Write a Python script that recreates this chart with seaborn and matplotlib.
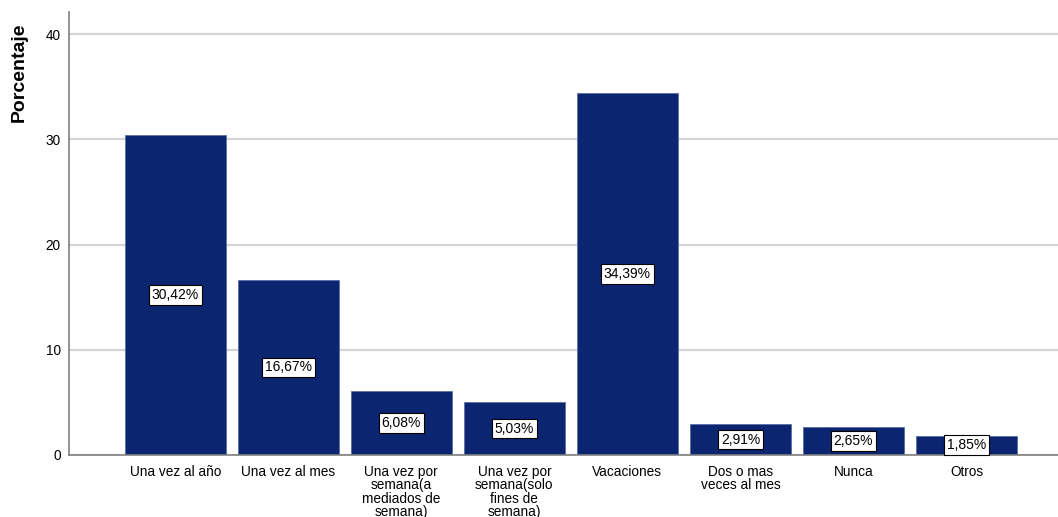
import matplotlib
matplotlib.use('Agg')
import matplotlib.pyplot as plt
import seaborn as sns
import pandas as pd

categorias = ['Una vez al año', 'Una vez al mes', 'Una vez por\nsemana(a\nmediados de\nsemana)',
              'Una vez por\nsemana(solo\nfines de\nsemana)', 'Vacaciones', 'Dos o mas\nveces al mes',
              'Nunca', 'Otros']
porcentajes = [30.42, 16.67, 6.08, 5.03, 34.39, 2.91, 2.65, 1.85]
etiquetas = ['30,42%', '16,67%', '6,08%', '5,03%', '34,39%', '2,91%', '2,65%', '1,85%']

sns.set_style('white')
plt.rcParams['font.family'] = ['Liberation Sans', 'DejaVu Sans']

df = pd.DataFrame({'categoria': categorias, 'porcentaje': porcentajes})

fig = plt.figure(figsize=(10.58, 5.17), dpi=100)
ax = fig.add_axes([69 / 1058, 62 / 517, 989 / 1058, 443 / 517])

ax.set_axisbelow(True)
ax.yaxis.grid(True, color='#d4d4d4', linewidth=1.6)
sns.barplot(data=df, x='categoria', y='porcentaje', color='#0b2570', width=0.89,
            saturation=1, edgecolor='#5a6fa8', linewidth=0.6, ax=ax)

for i, (v, t) in enumerate(zip(porcentajes, etiquetas)):
    ax.text(i, v / 2, t, ha='center', va='center', fontsize=10, color='black',
            bbox=dict(boxstyle='square,pad=0.2', facecolor='white', edgecolor='black', linewidth=0.8))

ax.set_ylim(0, 42.1)
ax.set_xlim(-0.94, 7.81)
ax.set_yticks([0, 10, 20, 30, 40])
ax.tick_params(axis='both', length=0, labelsize=9.8, labelcolor='black', pad=6)
ax.tick_params(axis='x', pad=7)
for lbl in ax.get_xticklabels():
    lbl.set_linespacing(0.95)
ax.set_xlabel('')
ax.set_ylabel('Porcentaje', fontsize=14, fontweight='bold', color='black')
ax.yaxis.set_label_coords(-0.0415, (455 - 72) / 443)

for s in ['top', 'right']:
    ax.spines[s].set_visible(False)
for s in ['left', 'bottom']:
    ax.spines[s].set_color('#808080')
    ax.spines[s].set_linewidth(1.2)

plt.savefig('out.png', dpi=100)
plt.close()
